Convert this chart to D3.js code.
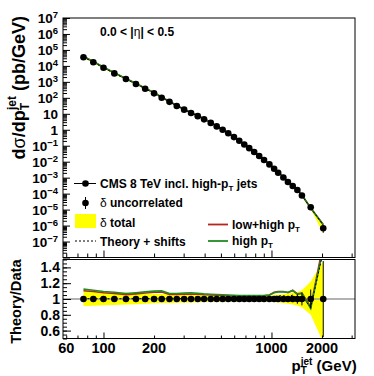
<!DOCTYPE html>
<html>
<head>
<meta charset="utf-8">
<script src="https://cdn.jsdelivr.net/npm/d3@7"></script>
<style>
body { margin: 0; background: #fff; }
text { font-family: "Liberation Sans", Arial, sans-serif; font-weight: bold; fill: #000; }
</style>
</head>
<body>
<script>
// jet pT (GeV) of each measured bin
var pt = [76, 87, 100, 116, 136, 156, 177, 200, 222, 247, 273, 302, 332, 364, 397, 435, 472, 512,
          553, 598, 643, 689, 737, 789, 845, 903, 972, 1037, 1096, 1177, 1253, 1338, 1426, 1518, 1712, 2033];
// cross section (pb/GeV)
var xsec = [3.5e4, 1.7e4, 7.6e3, 3.4e3, 1.5e3, 741, 372, 191, 102, 56, 31, 18.2, 11.2, 7.1, 4.5, 2.7, 1.62, 1.0,
            0.60, 0.347, 0.204, 0.120, 0.0708, 0.0407, 0.0229, 0.0129, 6.76e-3, 3.63e-3, 2.04e-3, 1.02e-3,
            5.4e-4, 3.0e-4, 1.7e-4, 7.6e-5, 1.4e-5, 6.8e-7];
// relative uncorrelated uncertainty
var uncErr = [0.004, 0.004, 0.004, 0.004, 0.004, 0.004, 0.004, 0.004, 0.004, 0.004, 0.004, 0.004, 0.004, 0.004,
              0.005, 0.005, 0.005, 0.005, 0.005, 0.006, 0.006, 0.006, 0.007, 0.007, 0.008, 0.009, 0.01, 0.012,
              0.015, 0.02, 0.025, 0.04, 0.06, 0.08, 0.12, 0.48];
// total uncertainty band (relative to data)
var bandLo = [0.91, 0.915, 0.92, 0.925, 0.93, 0.935, 0.94, 0.945, 0.948, 0.95, 0.953, 0.955, 0.957, 0.96, 0.962,
              0.964, 0.965, 0.966, 0.967, 0.968, 0.969, 0.97, 0.97, 0.97, 0.969, 0.968, 0.966, 0.962, 0.957,
              0.95, 0.94, 0.93, 0.915, 0.895, 0.80, 0.45];
var bandHi = [1.10, 1.095, 1.09, 1.085, 1.08, 1.075, 1.07, 1.065, 1.062, 1.06, 1.057, 1.055, 1.052, 1.05, 1.048,
              1.046, 1.045, 1.044, 1.043, 1.042, 1.041, 1.04, 1.04, 1.04, 1.041, 1.042, 1.045, 1.05, 1.055,
              1.06, 1.07, 1.08, 1.09, 1.11, 1.22, 1.48];
// theory / data
var ratioLowHigh = [1.105, 1.095, 1.08, 1.07, 1.055, 1.065, 1.075, 1.085, 1.09, 1.057, 1.057, 1.062, 1.064, 1.06,
                    1.054, 1.05, 1.047, 1.044, 1.04, 1.038, 1.036, 1.035, 1.035, 1.035, 1.036, 1.04, 1.05,
                    1.085, 1.095, 1.095, 1.08, 1.11, 1.065, 1.075, 0.90, 1.70];
var ratioHigh = [1.125, 1.11, 1.095, 1.085, 1.07, 1.08, 1.09, 1.10, 1.105, 1.07, 1.07, 1.075, 1.077, 1.072,
                 1.065, 1.06, 1.057, 1.054, 1.05, 1.047, 1.045, 1.044, 1.043, 1.043, 1.043, 1.045, 1.05,
                 1.08, 1.09, 1.09, 1.085, 1.105, 1.06, 1.07, 0.88, 1.65];
var ratioShift = [1.005, 1.004, 1.004, 1.003, 1.004, 1.005, 1.005, 1.006, 1.005, 1.004, 1.004, 1.004, 1.004, 1.003,
                  1.003, 1.003, 1.003, 1.003, 1.003, 1.003, 1.003, 1.003, 1.003, 1.003, 1.004, 1.005, 1.01,
                  1.03, 1.04, 1.04, 1.03, 1.05, 1.0, 1.02, 0.90, 1.60];
var xTickLabels = [60, 100, 200, 1000, 2000];
var ratioTickLabels = [0.6, 0.8, 1, 1.2, 1.4];

var width = 374, height = 376;
var left = 63, right = 355,
    topT = 18, topB = 257.5,
    ratT = 259.5, ratB = 338.5;

var svg = d3.select("body")
            .append("svg")
            .attr("width", width)
            .attr("height", height);

var x = d3.scaleLog().domain([57.4, 3142]).range([left, right]);
var y = d3.scaleLog().domain([1e-8, 1e7]).range([topB, topT]);
var yr = d3.scaleLinear().domain([0.5, 1.5]).range([ratB, ratT]);

var rows = pt.map(function(p, i) {
  return {pt: p, xs: xsec[i], err: uncErr[i], lo: bandLo[i], hi: bandHi[i],
          rLH: ratioLowHigh[i], rH: ratioHigh[i], rS: ratioShift[i]};
});

var defs = svg.append("defs");
defs.append("clipPath").attr("id", "clipTop")
    .append("rect").attr("x", left).attr("y", topT).attr("width", right - left).attr("height", topB - topT);
defs.append("clipPath").attr("id", "clipRat")
    .append("rect").attr("x", left).attr("y", ratT).attr("width", right - left).attr("height", ratB - ratT);

// ---------- upper panel ----------
var gTop = svg.append("g").attr("clip-path", "url(#clipTop)");

gTop.append("path")
    .datum(rows)
    .attr("fill", "#ffff00")
    .attr("d", d3.area()
                 .x(function(d) { return x(d.pt); })
                 .y0(function(d) { return y(d.xs * d.lo); })
                 .y1(function(d) { return y(d.xs * d.hi); }));

var topLine = function(key) {
  return d3.line()
           .x(function(d) { return x(d.pt); })
           .y(function(d) { return y(d.xs * d[key]); });
};

gTop.append("path").datum(rows).attr("fill", "none").attr("stroke", "#b3261e").attr("stroke-width", 1.6).attr("d", topLine("rLH"));
gTop.append("path").datum(rows).attr("fill", "none").attr("stroke", "#228b22").attr("stroke-width", 1.6).attr("d", topLine("rH"));
gTop.append("path").datum(rows).attr("fill", "none").attr("stroke", "#000").attr("stroke-width", 1)
    .attr("stroke-dasharray", "2,2").attr("d", topLine("rS"));

gTop.selectAll(".ebar")
    .data(rows)
    .enter()
    .append("line")
    .attr("x1", function(d) { return x(d.pt); })
    .attr("x2", function(d) { return x(d.pt); })
    .attr("y1", function(d) { return y(d.xs * (1 - d.err)); })
    .attr("y2", function(d) { return y(d.xs * (1 + d.err)); })
    .attr("stroke", "#000");

gTop.selectAll(".pt")
    .data(rows)
    .enter()
    .append("circle")
    .attr("cx", function(d) { return x(d.pt); })
    .attr("cy", function(d) { return y(d.xs); })
    .attr("r", 3.3)
    .attr("fill", "#000");

// ---------- ratio panel ----------
var gRat = svg.append("g").attr("clip-path", "url(#clipRat)");

gRat.append("path")
    .datum(rows)
    .attr("fill", "#ffff00")
    .attr("d", d3.area()
                 .x(function(d) { return x(d.pt); })
                 .y0(function(d) { return yr(d.lo); })
                 .y1(function(d) { return yr(d.hi); }));

gRat.append("line")
    .attr("x1", left).attr("x2", right)
    .attr("y1", yr(1)).attr("y2", yr(1))
    .attr("stroke", "#999").attr("stroke-width", 1.5);

var ratLine = function(key) {
  return d3.line()
           .x(function(d) { return x(d.pt); })
           .y(function(d) { return yr(d[key]); });
};

gRat.append("path").datum(rows).attr("fill", "none").attr("stroke", "#b3261e").attr("stroke-width", 1.6).attr("d", ratLine("rLH"));
gRat.append("path").datum(rows).attr("fill", "none").attr("stroke", "#228b22").attr("stroke-width", 1.6).attr("d", ratLine("rH"));
gRat.append("path").datum(rows).attr("fill", "none").attr("stroke", "#000").attr("stroke-width", 1)
    .attr("stroke-dasharray", "2,2").attr("d", ratLine("rS"));

gRat.selectAll(".ebar")
    .data(rows)
    .enter()
    .append("line")
    .attr("x1", function(d) { return x(d.pt); })
    .attr("x2", function(d) { return x(d.pt); })
    .attr("y1", function(d) { return yr(1 - d.err); })
    .attr("y2", function(d) { return yr(1 + d.err); })
    .attr("stroke", "#000");

gRat.selectAll(".pt")
    .data(rows)
    .enter()
    .append("circle")
    .attr("cx", function(d) { return x(d.pt); })
    .attr("cy", yr(1))
    .attr("r", 3.3)
    .attr("fill", "#000");

// ---------- axes (ticks inside the frames) ----------
var yMajor = [], yMinor = [];
for (var k = -8; k <= 7; k++) {
  yMajor.push(Math.pow(10, k));
  for (var m = 2; m <= 9; m++) {
    if (k < 7) yMinor.push(m * Math.pow(10, k));
  }
}
var xMajor = [100, 1000], xMinor = [60, 70, 80, 90, 200, 300, 400, 500, 600, 700, 800, 900, 2000, 3000];
var rMajor = d3.range(0.6, 1.41, 0.2), rMinor = d3.range(0.5, 1.501, 0.05);

var tickAxis = function(g, axis, vals, size) {
  g.call(axis.tickValues(vals).tickSize(size).tickFormat(""));
  g.select(".domain").remove();
  g.selectAll("line").attr("stroke", "#000");
};

tickAxis(svg.append("g").attr("transform", "translate(" + left + ",0)"), d3.axisRight(y), yMinor, 4);
tickAxis(svg.append("g").attr("transform", "translate(" + left + ",0)"), d3.axisRight(y), yMajor, 7);
tickAxis(svg.append("g").attr("transform", "translate(0," + topB + ")"), d3.axisTop(x), xMinor, 4);
tickAxis(svg.append("g").attr("transform", "translate(0," + topB + ")"), d3.axisTop(x), xMajor, 7);
tickAxis(svg.append("g").attr("transform", "translate(" + left + ",0)"), d3.axisRight(yr), rMinor, 4);
tickAxis(svg.append("g").attr("transform", "translate(" + left + ",0)"), d3.axisRight(yr), rMajor, 8);
tickAxis(svg.append("g").attr("transform", "translate(0," + ratB + ")"), d3.axisTop(x), xMinor, 3);
tickAxis(svg.append("g").attr("transform", "translate(0," + ratB + ")"), d3.axisTop(x), xMajor, 6);

// frames
svg.append("rect").attr("x", left).attr("y", topT).attr("width", right - left).attr("height", topB - topT)
   .attr("fill", "none").attr("stroke", "#000");
svg.append("rect").attr("x", left).attr("y", ratT).attr("width", right - left).attr("height", ratB - ratT)
   .attr("fill", "none").attr("stroke", "#000");

// y labels of the upper panel: 10^k
yMajor.forEach(function(v) {
  var k = Math.round(Math.log10(v));
  if (k < -7) return;
  var t = svg.append("text")
             .attr("x", 58)
             .attr("y", y(v) + 5)
             .attr("text-anchor", "end")
             .style("font-size", "13.5px");
  if (k == 0) { t.text("1"); return; }
  if (k == 1) { t.text("10"); return; }
  t.append("tspan").text("10");
  t.append("tspan").attr("dy", -5).style("font-size", "9.5px").text(k < 0 ? "\u2212" + (-k) : k);
});

// ratio labels
ratioTickLabels.forEach(function(v) {
  svg.append("text")
     .attr("x", 60)
     .attr("y", yr(v) + 5)
     .attr("text-anchor", "end")
     .style("font-size", "14px")
     .text(v);
});

// x labels
xTickLabels.forEach(function(v) {
  svg.append("text")
     .attr("x", x(v))
     .attr("y", 353)
     .attr("text-anchor", "middle")
     .style("font-size", "14.5px")
     .text(v);
});

// x title
var xt = svg.append("text").attr("x", 291.5).attr("y", 370.5).style("font-size", "15px");
xt.append("tspan").text("p");
xt.append("tspan").attr("dy", 3.5).style("font-size", "10px").text("T");
xt.append("tspan").attr("dx", -6).attr("dy", -9.5).style("font-size", "10px").text("jet");
xt.append("tspan").attr("dy", 6).text(" (GeV)");

// y title upper
var yt = svg.append("text")
            .attr("transform", "translate(25," + (topT - 2) + ") rotate(-90)")
            .attr("text-anchor", "end")
            .style("font-size", "18px");
yt.append("tspan").text("d");
yt.append("tspan").style("font-weight", "normal").text("\u03c3");
yt.append("tspan").text("/dp");
yt.append("tspan").attr("dy", 4).style("font-size", "12px").text("T");
yt.append("tspan").attr("dx", -7).attr("dy", -13).style("font-size", "12px").text("jet");
yt.append("tspan").attr("dy", 9).text(" (pb/GeV)");

// y title ratio
svg.append("text")
   .attr("transform", "translate(20.5," + ratT + ") rotate(-90)")
   .attr("text-anchor", "end")
   .style("font-size", "14.6px")
   .text("Theory/Data");

// eta range
var eta = svg.append("text").attr("x", 100).attr("y", 36).style("font-size", "12px");
eta.append("tspan").text("0.0 < |");
eta.append("tspan").style("font-weight", "normal").text("\u03b7");
eta.append("tspan").text("| < 0.5");

// ---------- legend ----------
var lg = svg.append("g");
lg.append("line").attr("x1", 74).attr("x2", 96).attr("y1", 183.5).attr("y2", 183.5).attr("stroke", "#000");
lg.append("circle").attr("cx", 85.5).attr("cy", 183.5).attr("r", 3.3).attr("fill", "#000");
lg.append("line").attr("x1", 85.5).attr("x2", 85.5).attr("y1", 197).attr("y2", 209).attr("stroke", "#000");
lg.append("circle").attr("cx", 85.5).attr("cy", 203).attr("r", 3.3).attr("fill", "#000");
lg.append("rect").attr("x", 75).attr("y", 214).attr("width", 21).attr("height", 14).attr("fill", "#ffff00");
lg.append("line").attr("x1", 75).attr("x2", 96).attr("y1", 241).attr("y2", 241)
  .attr("stroke", "#000").attr("stroke-dasharray", "2,2");
lg.append("line").attr("x1", 208).attr("x2", 228).attr("y1", 224.5).attr("y2", 224.5)
  .attr("stroke", "#b3261e").attr("stroke-width", 1.8);
lg.append("line").attr("x1", 208).attr("x2", 228).attr("y1", 241).attr("y2", 241)
  .attr("stroke", "#228b22").attr("stroke-width", 1.8);

var legText = function(xp, yp) {
  return lg.append("text").attr("x", xp).attr("y", yp).style("font-size", "12px");
};
var t1 = legText(100, 187.5);
t1.append("tspan").text("CMS 8 TeV incl. high-p");
t1.append("tspan").attr("dy", 3).style("font-size", "8px").text("T");
t1.append("tspan").attr("dy", -3).text(" jets");
var t2 = legText(100, 207);
t2.append("tspan").style("font-weight", "normal").text("\u03b4");
t2.append("tspan").text(" uncorrelated");
var t3 = legText(100, 226.5);
t3.append("tspan").style("font-weight", "normal").text("\u03b4");
t3.append("tspan").text(" total");
legText(100, 245.5).text("Theory + shifts");
var t5 = legText(232, 228.5);
t5.append("tspan").text("low+high p");
t5.append("tspan").attr("dy", 3).style("font-size", "8px").text("T");
var t6 = legText(232, 245);
t6.append("tspan").text("high p");
t6.append("tspan").attr("dy", 3).style("font-size", "8px").text("T");
</script>
</body>
</html>
